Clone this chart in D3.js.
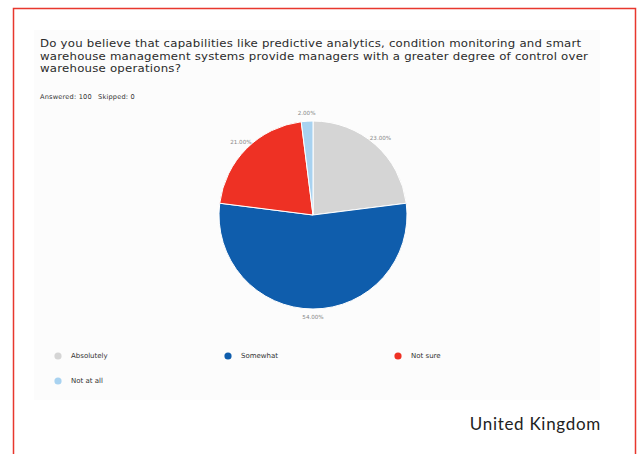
<!DOCTYPE html>
<html>
<head>
<meta charset="utf-8">
<script src="https://cdn.jsdelivr.net/npm/d3@7"></script>
<style>
  html, body { margin: 0; padding: 0; background: #ffffff; }
  svg { display: block; }
</style>
</head>
<body>
<svg id="chart" width="640" height="454"></svg>
<script>
// Survey answers (percent of respondents)
const categories = ["Absolutely", "Somewhat", "Not sure", "Not at all"];
const values = [23, 54, 21, 2];
const colors = ["#d5d5d5", "#0f5dac", "#ee3124", "#a8d2f0"];
const titleLines = [
  "Do you believe that capabilities like predictive analytics, condition monitoring and smart",
  "warehouse management systems provide managers with a greater degree of control over",
  "warehouse operations?"
];
const statsItems = ["Answered: 100", "Skipped: 0"];
const countryLabel = "United Kingdom";

const svg = d3.select("#chart");

// Outer frame (open at the bottom)
svg.append("path")
  .attr("d", "M13.5,454 L13.5,8.5 L635.5,8.5 L635.5,454")
  .attr("fill", "none")
  .attr("stroke", "#e8372d")
  .attr("stroke-width", 1.5);

// Panel background
svg.append("rect")
  .attr("x", 34).attr("y", 30).attr("width", 566).attr("height", 370)
  .attr("fill", "#fcfcfc");

// Question text (slightly widened type)
svg.append("g")
  .attr("transform", "translate(40,0) scale(1.12,1)")
  .selectAll("text")
  .data(titleLines)
  .join("text")
  .attr("x", 0)
  .attr("y", (d, i) => 47.5 + i * 12.2)
  .attr("font-family", "DejaVu Sans, sans-serif")
  .attr("font-size", 10.5)
  .attr("letter-spacing", 0.2)
  .attr("fill", "#2b2b2b")
  .text(d => d);

// Response counts
const statsX = [40, 98];
svg.append("g").selectAll("text")
  .data(statsItems)
  .join("text")
  .attr("x", (d, i) => statsX[i])
  .attr("y", 99)
  .attr("font-family", "DejaVu Sans, sans-serif")
  .attr("font-size", 6.6)
  .attr("letter-spacing", 0.2)
  .attr("fill", "#333")
  .text(d => d);

// Pie
const cx = 313, cy = 215, r = 94;
const pie = d3.pie().sort(null).value(d => d)(values);
const arc = d3.arc().innerRadius(0).outerRadius(r);
const labelArc = d3.arc().innerRadius(r + 8).outerRadius(r + 8);

const g = svg.append("g").attr("transform", `translate(${cx},${cy})`);
g.selectAll("path")
  .data(pie)
  .join("path")
  .attr("d", arc)
  .attr("fill", (d, i) => colors[i])
  .attr("stroke", "#ffffff")
  .attr("stroke-width", 1);

g.selectAll("text.pct")
  .data(pie)
  .join("text")
  .attr("class", "pct")
  .attr("transform", d => `translate(${labelArc.centroid(d)})`)
  .attr("text-anchor", "middle")
  .attr("dominant-baseline", "middle")
  .attr("font-family", "DejaVu Sans, sans-serif")
  .attr("font-size", 5.6)
  .attr("fill", "#888")
  .text(d => d3.format(".2f")(d.data) + "%");

// Legend
const legendX = [58, 228, 398];
const legend = svg.append("g").selectAll("g")
  .data(categories)
  .join("g")
  .attr("transform", (d, i) => `translate(${legendX[i % 3]},${356 + Math.floor(i / 3) * 25})`);
legend.append("circle")
  .attr("r", 3.6)
  .attr("fill", (d, i) => colors[i]);
legend.append("text")
  .attr("x", 13)
  .attr("dy", "0.35em")
  .attr("font-family", "DejaVu Sans, sans-serif")
  .attr("font-size", 7)
  .attr("fill", "#333")
  .text(d => d);

// Country caption
svg.append("text")
  .attr("x", 601).attr("y", 430)
  .attr("text-anchor", "end")
  .attr("font-family", "Lato, sans-serif")
  .attr("font-size", 17)
  .attr("letter-spacing", 0.7)
  .attr("fill", "#222")
  .text(countryLabel);
</script>
</body>
</html>
